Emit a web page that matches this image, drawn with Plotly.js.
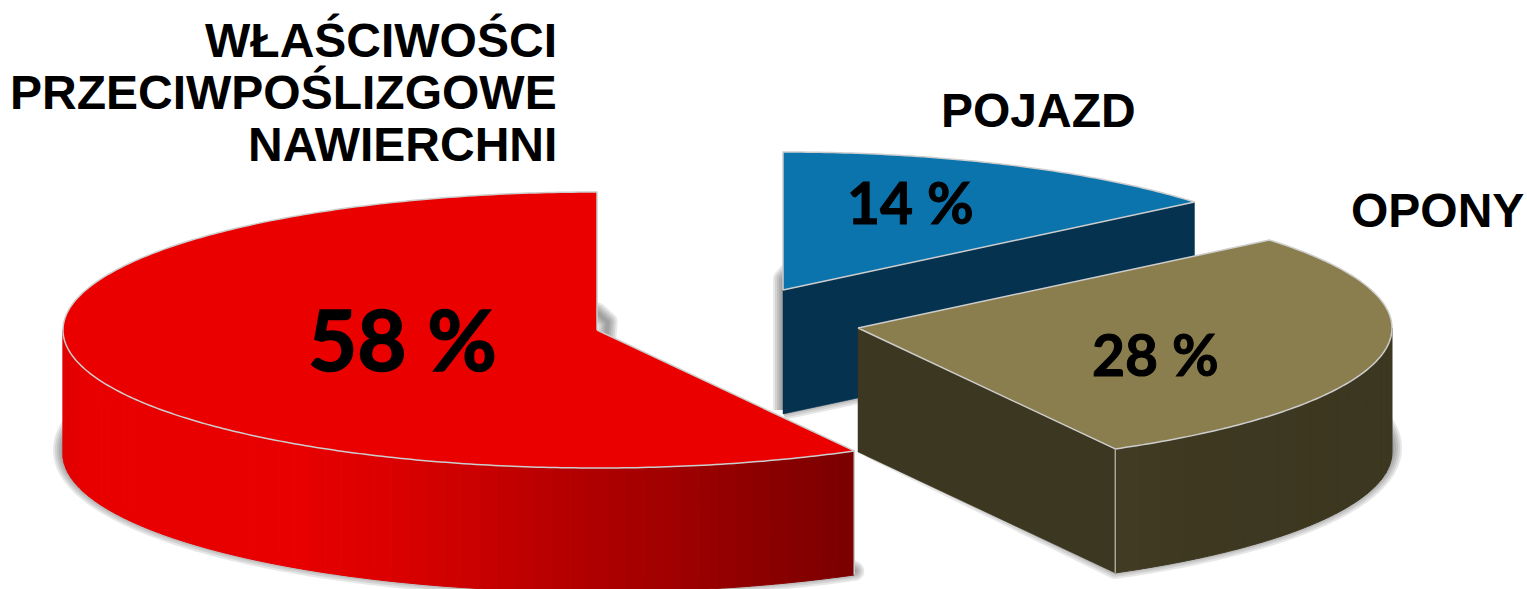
<!DOCTYPE html>
<html><head><meta charset="utf-8">
<script src="https://cdn.plot.ly/plotly-3.0.1.min.js"></script>
<style>html,body{margin:0;padding:0;background:#fff;overflow:hidden}#c{width:1527px;height:589px}
#c .scatterlayer path.js-line{stroke-linejoin:round}
#c .annotation[data-index="5"] text{stroke:#000;stroke-width:1.6px}
#c .annotation[data-index="6"] text,#c .annotation[data-index="7"] text{stroke:#000;stroke-width:1px}
</style>
</head><body><div id="c"></div>
<script>
// ---- data ----
const categories = ["WŁAŚCIWOŚCI PRZECIWPOŚLIZGOWE NAWIERCHNI", "POJAZD", "OPONY"];
const shares = [58, 14, 28];
const percentLabels = ["58 %", "14 %", "28 %"];
const redLabelLines = ["WŁAŚCIWOŚCI", "PRZECIWPOŚLIZGOWE", "NAWIERCHNI"];

// ---- projection of the tilted, exploded pie ----
const RX = 534, RY = 138, DEPTH = 124;
const anchors = { red: [597, 330], blue: [783, 290], olive: [858, 328] };
const deg = s => s * 3.6;
const blueA = [0, deg(shares[1])];
const oliveA = [blueA[1], blueA[1] + deg(shares[2])];
const redA = [oliveA[1], 360];

function pt(c, a, dz) {
  const r = a * Math.PI / 180;
  return [c[0] + RX * Math.sin(r), c[1] - RY * Math.cos(r) + (dz || 0)];
}
function arc(c, a0, a1, dz) {
  const n = Math.max(2, Math.ceil(Math.abs(a1 - a0) * 1.5)), out = [];
  for (let i = 0; i <= n; i++) out.push(pt(c, a0 + (a1 - a0) * i / n, dz));
  return out;
}
const traces = [];
function poly(pts, fill, line, width) {
  traces.push({
    type: "scatter", mode: "lines", hoverinfo: "skip", showlegend: false,
    x: pts.map(p => p[0]), y: pts.map(p => p[1]),
    fill: fill ? "toself" : "none", fillcolor: fill || "rgba(0,0,0,0)",
    line: { color: line || "rgba(0,0,0,0)", width: width || 0, simplify: false }
  });
}
function apex(c, dz) { return [c[0], c[1] + (dz || 0)]; }
function sector(c, a, dz) { return [apex(c, dz), ...arc(c, a[0], a[1], dz), apex(c, dz)]; }
function shadow(c, a, opts) {
  const lift = -4, z = DEPTH + lift;
  const ar = arc(c, a[0], a[1], z);
  // the soft edge ends at the rear of the slice, so the rear corner is pulled in by its blur
  if (opts.rearStart) ar[0] = [ar[0][0] + opts.rearX, ar[0][1] + opts.rearY];
  if (opts.rearEnd) ar[ar.length-1] = [ar[ar.length-1][0] + opts.rearX, ar[ar.length-1][1] + opts.rearY];
  const ap = [c[0] + opts.apexX, c[1] + z];
  const s = [ap, ...ar, ap];
  [20, 16, 12, 8, 4].forEach(w => poly(s, null, "rgba(70,70,70,0.13)", w));
}
function mix(stops, v) {
  for (let i = 1; i < stops.length; i++) if (v <= stops[i][0]) {
    const t = (v - stops[i-1][0]) / (stops[i][0] - stops[i-1][0]);
    const f = k => Math.round(stops[i-1][1][k] + (stops[i][1][k] - stops[i-1][1][k]) * t);
    return `rgb(${f(0)},${f(1)},${f(2)})`;
  }
  const l = stops[stops.length-1][1];
  return `rgb(${l[0]},${l[1]},${l[2]})`;
}
function wall(c, a0, a1, stops, step) {
  const n = Math.ceil(Math.abs(a1 - a0) / step);
  for (let i = 0; i < n; i++) {
    const u = a0 + (a1 - a0) * i / n, v = a0 + (a1 - a0) * (i + 1) / n;
    const top = arc(c, u, v, 0), bot = arc(c, v, u, DEPTH);
    const col = mix(stops, (pt(c, u)[0] + pt(c, v)[0]) / 2);
    poly([...top, ...bot, top[0]], col, col, 1);
  }
}
function face(c, a, col) {   // flat cut face along one radius
  const e = pt(c, a);
  poly([apex(c), e, [e[0], e[1] + DEPTH], apex(c, DEPTH), apex(c)], col, col, 0.5);
}
const EDGE = "#cdcdcd";

// olive shadow goes first so the blue wall and red corner cover its rear part
shadow(anchors.olive, oliveA, { apexX: 12 });

// blue slice
shadow(anchors.blue, blueA, { apexX: 0, rearStart: true, rearX: 0, rearY: 7 });
face(anchors.blue, blueA[1], "#04324f");
poly(sector(anchors.blue, blueA), "#0b74ad", EDGE, 1.5);

// red slice
shadow(anchors.red, [redA[0], redA[1] + 0.6], { apexX: 0, rearEnd: true, rearX: 5, rearY: 10 });
wall(anchors.red, redA[0], 270, [
  [63,[224,0,0]],[85,[232,0,0]],[300,[232,0,0]],[420,[214,0,0]],
  [560,[182,0,0]],[680,[158,0,0]],[780,[136,0,0]],[853,[122,0,0]]
], 2);
poly(sector(anchors.red, redA), "#eb0000", EDGE, 1.5);
const redEnd = pt(anchors.red, redA[0]);
poly([redEnd, [redEnd[0], redEnd[1] + DEPTH]], null, EDGE, 1.5);

// olive slice
face(anchors.olive, oliveA[1], "#3c3720");
wall(anchors.olive, 90, oliveA[1], [
  [1116,[66,60,36]],[1190,[62,56,33]],[1393,[60,55,32]]
], 3);
poly(sector(anchors.olive, oliveA), "#8a7e4e", EDGE, 1.5);
const oliveEnd = pt(anchors.olive, oliveA[1]);
poly([oliveEnd, [oliveEnd[0], oliveEnd[1] + DEPTH]], null, "#a8a69a", 1.5);

// ---- text ----
const bold = "Liberation Sans";
const pctFont = "Lato";
const labelSize = 48;
const ann = (text, x, y, xa, size, fam) => ({
  text, x, y, xref: "x", yref: "y", xanchor: xa, yanchor: "middle", showarrow: false,
  font: { family: fam, size, color: "#000" }
});
const annotations = [
  ann("<b>" + redLabelLines[0] + "</b>", 559, 40, "right", labelSize, bold),
  ann("<b>" + redLabelLines[1] + "</b>", 559, 92, "right", labelSize, bold),
  ann("<b>" + redLabelLines[2] + "</b>", 559, 144, "right", labelSize, bold),
  ann("<b>" + categories[1] + "</b>", 1038, 110, "center", labelSize, bold),
  ann("<b>" + categories[2] + "</b>", 1437.5, 210, "center", labelSize, bold),
  ann("<b>" + percentLabels[0] + "</b>", 402, 338, "center", 85, pctFont),
  ann("<b>" + percentLabels[1] + "</b>", 910, 202, "center", 57, pctFont),
  ann("<b>" + percentLabels[2] + "</b>", 1155, 354, "center", 57, pctFont)
];

Plotly.newPlot("c", traces, {
  width: 1527, height: 589, margin: { l: 0, r: 0, t: 0, b: 0 },
  paper_bgcolor: "#fff", plot_bgcolor: "#fff", showlegend: false,
  xaxis: { range: [0, 1527], visible: false, fixedrange: true },
  yaxis: { range: [589, 0], visible: false, fixedrange: true },
  annotations
}, { displayModeBar: false, staticPlot: true });
</script></body></html>
